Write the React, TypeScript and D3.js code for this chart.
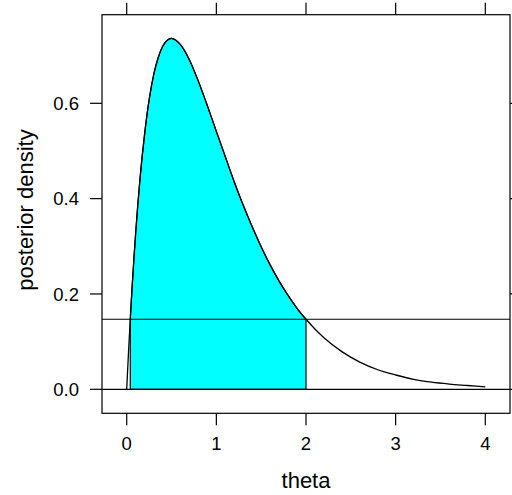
import React from "react";
import * as d3 from "d3";

// Posterior density curve
const thetaValues = [0, 0.02, 0.04, 0.06, 0.08, 0.1, 0.15, 0.2, 0.25, 0.3, 0.35, 0.4, 0.45, 0.5, 0.55, 0.6, 0.7, 0.8, 0.9, 1.0, 1.1, 1.2, 1.3, 1.4, 1.5, 1.6, 1.7, 1.8, 1.9, 2.0, 2.2, 2.4, 2.6, 2.8, 3.0, 3.2, 3.4, 3.6, 3.8, 4.0];
const densityValues = [0, 0.077, 0.148, 0.213, 0.273, 0.328, 0.445, 0.536, 0.607, 0.659, 0.695, 0.719, 0.732, 0.736, 0.732, 0.723, 0.691, 0.646, 0.595, 0.541, 0.488, 0.435, 0.386, 0.341, 0.299, 0.261, 0.227, 0.197, 0.170, 0.147, 0.108, 0.079, 0.057, 0.041, 0.030, 0.021, 0.015, 0.011, 0.008, 0.005];

// Highest posterior density interval and cut level
const hpdLower = 0.04;
const hpdUpper = 2.0;
const hpdLevel = 0.147;

const xTicks = [0, 1, 2, 3, 4];
const yTicks = [0.0, 0.2, 0.4, 0.6];
const xLabel = "theta";
const yLabel = "posterior density";

export default function App() {
  const W = 512, H = 495;
  const left = 102, right = 510, top = 14.7, bottom = 413.3;
  const x = d3.scaleLinear().domain([0, 4]).range([126.7, 485.3]);
  const y = d3.scaleLinear().domain([0, 0.6]).range([389.3, 103.3]);

  const pts: [number, number][] = thetaValues.map((t, i) => [t, densityValues[i]]);
  const line = d3.line<[number, number]>().x(d => x(d[0])).y(d => y(d[1])).curve(d3.curveMonotoneX);
  const inside = pts.filter(p => p[0] >= hpdLower && p[0] <= hpdUpper);
  const poly: [number, number][] = [[hpdLower, 0], ...inside, [hpdUpper, 0]];
  const area = d3.line<[number, number]>().x(d => x(d[0])).y(d => y(d[1])).curve(d3.curveLinear);
  const polyPath = "M" + x(hpdLower) + "," + y(0) + "L" + line(inside)!.slice(1) + "L" + x(hpdUpper) + "," + y(0) + "Z";

  const font = "Liberation Sans, Arial, Helvetica, sans-serif";
  const tick = 12;

  return (
    <svg width={W} height={H} style={{ position: "absolute", left: 0, top: 0, background: "#fff" }} fontFamily={font}>
      <defs>
        <clipPath id="panel">
          <rect x={left} y={top} width={right - left} height={bottom - top} />
        </clipPath>
      </defs>
      <g clipPath="url(#panel)">
        <path d={polyPath} fill="#00FFFF" stroke="#000" strokeWidth={1.2} />
        <line x1={left} x2={right} y1={y(0)} y2={y(0)} stroke="#000" strokeWidth={1.2} />
        <line x1={left} x2={right} y1={y(hpdLevel)} y2={y(hpdLevel)} stroke="#000" strokeWidth={1.2} />
        <path d={line(pts)!} fill="none" stroke="#000" strokeWidth={1.3} />
      </g>
      <rect x={left} y={top} width={right - left} height={bottom - top} fill="none" stroke="#000" strokeWidth={1.2} />
      {xTicks.map(t => (
        <g key={"x" + t}>
          <line x1={x(t)} x2={x(t)} y1={bottom} y2={bottom + tick} stroke="#000" strokeWidth={1.2} />
          <line x1={x(t)} x2={x(t)} y1={top} y2={top - tick} stroke="#000" strokeWidth={1.2} />
          <text x={x(t)} y={450} textAnchor="middle" fontSize={18.5}>{String(t)}</text>
        </g>
      ))}
      {yTicks.map(t => (
        <g key={"y" + t}>
          <line x1={left} x2={left - tick} y1={y(t)} y2={y(t)} stroke="#000" strokeWidth={1.2} />
          <line x1={right} x2={right + tick} y1={y(t)} y2={y(t)} stroke="#000" strokeWidth={1.2} />
          <text x={79} y={y(t) + 6.7} textAnchor="end" fontSize={18.5}>{t.toFixed(1)}</text>
        </g>
      ))}
      <text x={(left + right) / 2} y={488} textAnchor="middle" fontSize={22}>{xLabel}</text>
      <text transform={`translate(33,${(top + bottom) / 2 - 4}) rotate(-90)`} textAnchor="middle" fontSize={22}>{yLabel}</text>
    </svg>
  );
}
